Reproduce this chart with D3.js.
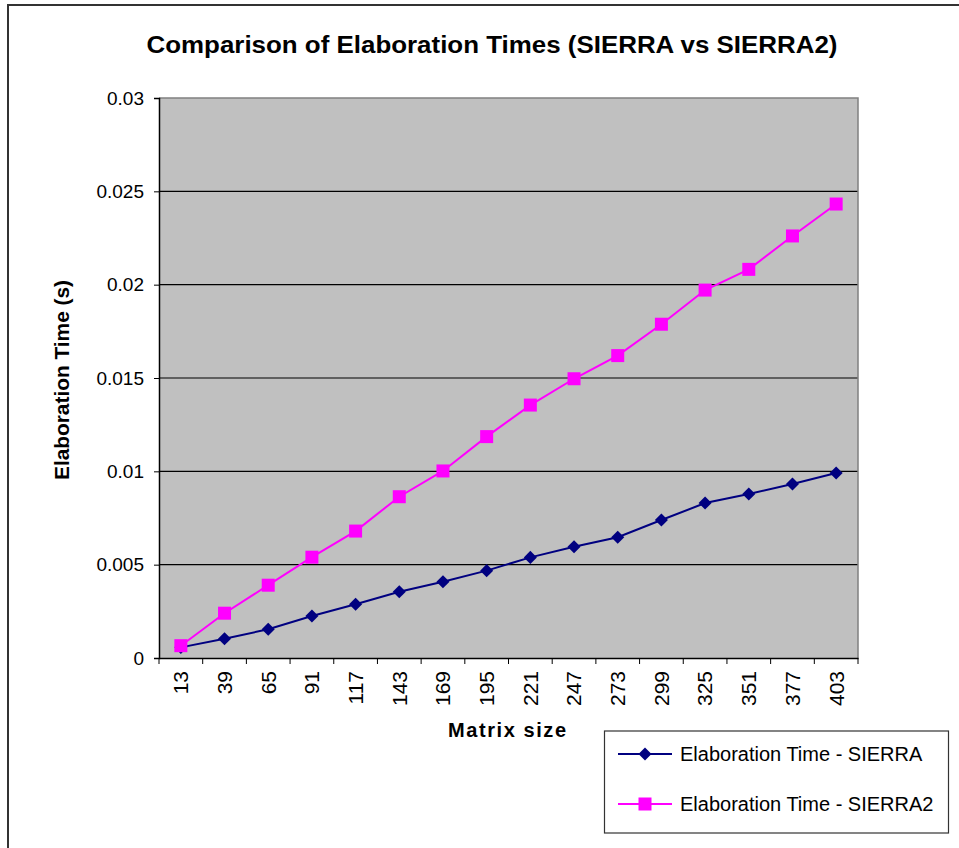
<!DOCTYPE html>
<html><head><meta charset="utf-8">
<script src="https://cdn.jsdelivr.net/npm/d3@7"></script>
<style>body{margin:0;background:#fff}svg{display:block}text{font-family:"Liberation Sans",Arial,sans-serif}</style>
</head><body>
<svg id="chart" width="959" height="848"></svg>
<script>
const categories = ["13","39","65","91","117","143","169","195","221","247","273","299","325","351","377","403"];
const sierra  = [0.00057,0.00103,0.00154,0.00225,0.00288,0.00355,0.00409,0.00468,0.00539,0.00596,0.00647,0.00739,0.0083,0.00879,0.00932,0.00991];
const sierra2 = [0.00066,0.0024,0.0039,0.0054,0.0068,0.00864,0.01002,0.01186,0.01355,0.01496,0.0162,0.01788,0.01971,0.02082,0.02261,0.02432];
const yTicks = [0,0.005,0.01,0.015,0.02,0.025,0.03];
const seriesNames = ["Elaboration Time - SIERRA","Elaboration Time - SIERRA2"];
const seriesColors = ["#000080","#FF00FF"];

const svg = d3.select("#chart");
const L=159, R=858, T=98, B=658;
svg.append("rect").attr("x",8).attr("y",5).attr("width",960).attr("height",860).attr("fill","#fff").attr("stroke","#333").attr("stroke-width",2);

const x = d3.scaleBand().domain(categories).range([L,R]).padding(0);
const y = d3.scaleLinear().domain([0,0.03]).range([B,T]);

svg.append("rect").attr("x",L).attr("y",T).attr("width",R-L).attr("height",B-T).attr("fill","#C0C0C0");
// grid
svg.append("g").selectAll("line").data(yTicks.slice(1,-1)).join("line")
  .attr("x1",L).attr("x2",R).attr("y1",d=>y(d)).attr("y2",d=>y(d)).attr("stroke","#000").attr("stroke-width",1.2);
// top & right border gray
svg.append("path").attr("d",`M${L},${T}H${R}V${B}`).attr("fill","none").attr("stroke","#808080").attr("stroke-width",1.5);

// y axis
const ya = svg.append("g").attr("transform",`translate(${L},0)`)
  .call(d3.axisLeft(y).tickValues(yTicks).tickSize(5).tickPadding(10).tickFormat(d=>d3.format("")(+d.toFixed(3))));
ya.select(".domain").attr("stroke","#000").attr("stroke-width",1.5);
ya.selectAll(".tick line").attr("stroke","#000");
ya.selectAll("text").attr("font-size",19).attr("fill","#000").attr("font-family","Liberation Sans, Arial, sans-serif");

// x axis
const xa = svg.append("g").attr("transform",`translate(0,${B})`)
  .call(d3.axisBottom(x).tickSize(0).tickFormat(d=>d));
xa.select(".domain").attr("stroke","#000").attr("stroke-width",1.5);
xa.selectAll(".tick text").attr("transform","rotate(-90)").attr("text-anchor","end")
  .attr("x",-13).attr("y",0).attr("dy","0.35em").attr("font-size",21).attr("fill","#000").attr("font-family","Liberation Sans, Arial, sans-serif");
// x boundary ticks
const bounds = categories.map(c=>x(c)).concat([R]);
svg.append("g").selectAll("line").data(bounds).join("line")
  .attr("x1",d=>d).attr("x2",d=>d).attr("y1",B).attr("y2",B+6).attr("stroke","#000");

// lines
const line = d3.line().x((d,i)=>x(categories[i])+x.bandwidth()/2).y(d=>y(d));
svg.append("path").datum(sierra).attr("d",line).attr("fill","none").attr("stroke",seriesColors[0]).attr("stroke-width",2);
svg.append("path").datum(sierra2).attr("d",line).attr("fill","none").attr("stroke",seriesColors[1]).attr("stroke-width",2);
svg.append("g").selectAll("path").data(sierra).join("path")
  .attr("transform",(d,i)=>`translate(${x(categories[i])+x.bandwidth()/2},${y(d)}) rotate(45)`)
  .attr("d",d3.symbol().type(d3.symbolSquare).size(85)).attr("fill",seriesColors[0]);
svg.append("g").selectAll("rect").data(sierra2).join("rect")
  .attr("x",(d,i)=>x(categories[i])+x.bandwidth()/2-6.5).attr("y",d=>y(d)-6.5).attr("width",13).attr("height",13).attr("fill",seriesColors[1]);

// title
svg.append("text").attr("x",492).attr("y",53).attr("text-anchor","middle").attr("font-size",23).attr("font-weight","bold")
  .attr("textLength",691).attr("lengthAdjust","spacingAndGlyphs").text("Comparison of Elaboration Times (SIERRA vs SIERRA2)");
svg.append("text").attr("transform","translate(69,380) rotate(-90)").attr("text-anchor","middle").attr("font-size",20).attr("font-weight","bold")
  .attr("textLength",200).attr("lengthAdjust","spacingAndGlyphs").text("Elaboration Time (s)");
svg.append("text").attr("x",507).attr("y",737).attr("text-anchor","middle").attr("font-size",20).attr("font-weight","bold")
  .attr("textLength",118).attr("lengthAdjust","spacing").text("Matrix size");

// legend
const lg = svg.append("g");
lg.append("rect").attr("x",604.5).attr("y",731).attr("width",344).attr("height",102).attr("fill","#fff").attr("stroke","#333").attr("stroke-width",1.2);
[754,804].forEach((ly,i)=>{
  lg.append("line").attr("x1",618).attr("x2",672).attr("y1",ly).attr("y2",ly).attr("stroke",seriesColors[i]).attr("stroke-width",2);
  if(i===0) lg.append("path").attr("transform",`translate(645,${ly}) rotate(45)`).attr("d",d3.symbol().type(d3.symbolSquare).size(85)).attr("fill",seriesColors[0]);
  else lg.append("rect").attr("x",638.5).attr("y",ly-6.5).attr("width",13).attr("height",13).attr("fill",seriesColors[1]);
  lg.append("text").attr("x",680).attr("y",ly+7).attr("font-size",20).attr("fill","#000").text(seriesNames[i]);
});
</script>
</body></html>
